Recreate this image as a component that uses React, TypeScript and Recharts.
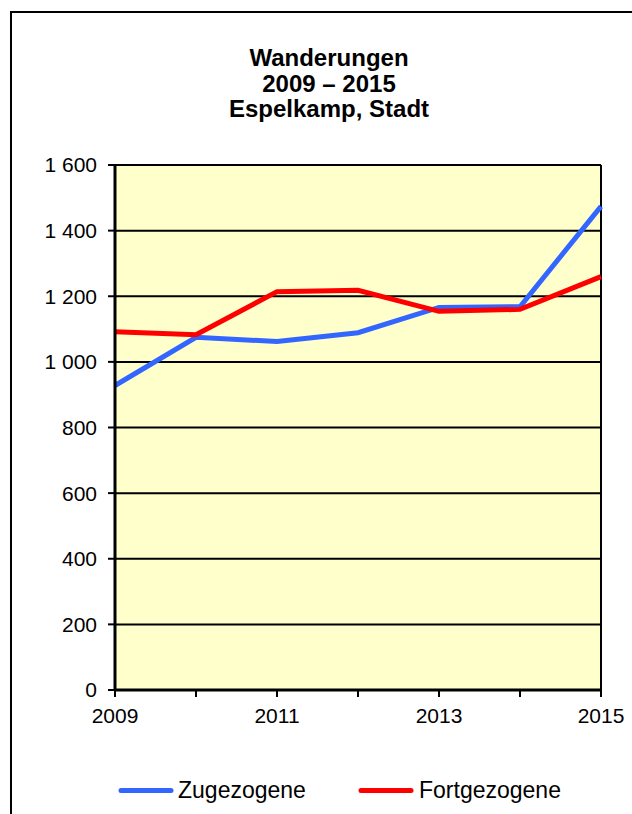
import React from "react";
import { LineChart, Line, XAxis, YAxis, CartesianGrid, ReferenceLine } from "recharts";

const years = [2009, 2010, 2011, 2012, 2013, 2014, 2015];
const labelYears = [2009, 2011, 2013, 2015];
const zugezogene = [928, 1075, 1062, 1089, 1166, 1168, 1474];
const fortgezogene = [1092, 1083, 1214, 1218, 1154, 1160, 1260];
const yTicks = [0, 200, 400, 600, 800, 1000, 1200, 1400, 1600];
const titleLines = ["Wanderungen", "2009 – 2015", "Espelkamp, Stadt"];
const seriesNames = ["Zugezogene", "Fortgezogene"];
const seriesColors = ["#3366FF", "#FF0000"];

const data = years.map((y, i) => ({ year: y, zu: zugezogene[i], fort: fortgezogene[i] }));

const fmt = (v: number) => {
  const s = String(v);
  return s.length > 3 ? s.slice(0, s.length - 3) + " " + s.slice(s.length - 3) : s;
};

const FONT = "Arial, 'Liberation Sans', sans-serif";

export default function App() {
  return (
    <div style={{ position: "absolute", left: 0, top: 0, width: 632, height: 814, overflow: "hidden", background: "#fff", fontFamily: FONT }}>
      <div style={{ position: "absolute", left: 10, top: 11, width: 700, height: 900, border: "2px solid #000", boxSizing: "border-box" }} />
      <div style={{ position: "absolute", left: 129, top: 45, width: 400, textAlign: "center", fontWeight: "bold", fontSize: 24, lineHeight: "25.5px", color: "#000" }}>
        {titleLines.map((t) => (
          <div key={t}>{t}</div>
        ))}
      </div>
      <div style={{ position: "absolute", left: 0, top: 0 }}>
        <LineChart width={632} height={814} data={data} margin={{ top: 165, right: 31, left: 15, bottom: 64 }}>
          <CartesianGrid vertical={false} stroke="#000" strokeWidth={2} fill="#FFFFCC" fillOpacity={1} horizontalValues={yTicks} />
          <XAxis
            dataKey="year"
            type="number"
            domain={[2009, 2015]}
            ticks={years}
            interval={0}
            tickFormatter={(v: number) => (labelYears.includes(v) ? String(v) : "")}
            tick={{ fill: "#000", fontSize: 21, fontFamily: FONT }}
            tickSize={7}
            tickMargin={11}
            height={60}
            axisLine={{ stroke: "#000", strokeWidth: 3 }}
            tickLine={{ stroke: "#000", strokeWidth: 2 }}
          />
          <YAxis
            type="number"
            domain={[0, 1600]}
            ticks={yTicks}
            interval={0}
            tickFormatter={fmt}
            tick={{ fill: "#000", fontSize: 21, fontFamily: FONT }}
            tickSize={7}
            tickMargin={11}
            width={100}
            axisLine={{ stroke: "#000", strokeWidth: 3 }}
            tickLine={{ stroke: "#000", strokeWidth: 2 }}
          />
          <ReferenceLine x={2015} stroke="#000" strokeWidth={2} />
          <ReferenceLine y={1600} stroke="#000" strokeWidth={2} />
          <Line type="linear" dataKey="zu" name={seriesNames[0]} stroke={seriesColors[0]} strokeWidth={5} dot={false} isAnimationActive={false} />
          <Line type="linear" dataKey="fort" name={seriesNames[1]} stroke={seriesColors[1]} strokeWidth={5} dot={false} isAnimationActive={false} />
        </LineChart>
      </div>
      <svg style={{ position: "absolute", left: 0, top: 770 }} width={632} height={44}>
        <line x1={121} y1={20.5} x2={171} y2={20.5} stroke={seriesColors[0]} strokeWidth={5} strokeLinecap="round" />
        <text x={178} y={28} fontSize={23} fontFamily={FONT} fill="#000">{seriesNames[0]}</text>
        <line x1={361} y1={20.5} x2={411} y2={20.5} stroke={seriesColors[1]} strokeWidth={5} strokeLinecap="round" />
        <text x={419} y={28} fontSize={23} fontFamily={FONT} fill="#000">{seriesNames[1]}</text>
      </svg>
    </div>
  );
}
